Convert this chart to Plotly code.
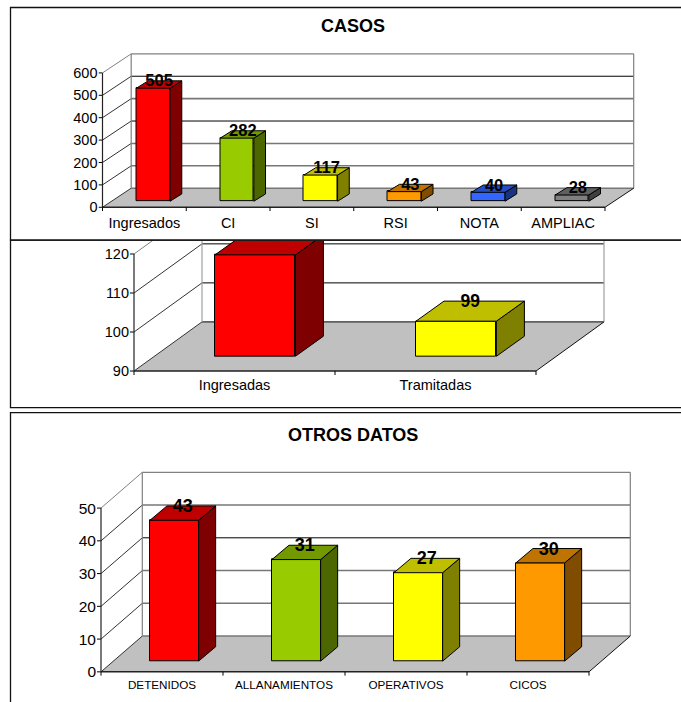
import plotly.graph_objects as go

W, H = 681, 702
FONT = "Liberation Sans"
K = 1.0085  # vertical pixel correction measured against the reference

# ---- data ----
casos_cat = ["Ingresados", "CI", "SI", "RSI", "NOTA", "AMPLIAC"]
casos_val = [505, 282, 117, 43, 40, 28]
casos_ticks = [0, 100, 200, 300, 400, 500, 600]
casos_front = ["#FF0000", "#99CC00", "#FFFF00", "#FF9900", "#3366FF", "#808080"]
casos_side = ["#7F0000", "#4C6600", "#7F7F00", "#7F4C00", "#1A337F", "#404040"]
casos_top = ["#BF0000", "#739900", "#BFBF00", "#BF7300", "#264DBF", "#606060"]

den_cat = ["Ingresadas", "Tramitadas"]
den_val = [116, 99]
den_ticks = [90, 100, 110, 120]
den_front = ["#FF0000", "#FFFF00"]
den_side = ["#7F0000", "#7F7F00"]
den_top = ["#BF0000", "#BFBF00"]

otros_cat = ["DETENIDOS", "ALLANAMIENTOS", "OPERATIVOS", "CICOS"]
otros_val = [43, 31, 27, 30]
otros_ticks = [0, 10, 20, 30, 40, 50]
otros_front = ["#FF0000", "#99CC00", "#FFFF00", "#FF9900"]
otros_side = ["#7F0000", "#4C6600", "#7F7F00", "#7F4C00"]
otros_top = ["#BF0000", "#739900", "#BFBF00", "#BF7300"]

# ---- layout of the three panels, in pixels ----
panels = [
    dict(cat=casos_cat, val=casos_val, ticks=casos_ticks, front=casos_front, side=casos_side, top=casos_top,
         xl=102.5, xr=605, y0=206.7, ytop=72.7, wdx=28.7, wdy=-19, clip_top=50,
         bw=33.6, bdx=11.7, bdy=-7.3, bx=8.9, by=-6,
         tf=14.5, cf=14.5, lf=16.5, standoff=1,
         dark=[300, 500], wall_line="#808080"),
    dict(cat=den_cat, val=den_val, ticks=den_ticks, front=den_front, side=den_side, top=den_top,
         xl=134, xr=536, y0=370, ytop=253.3, wdx=68, wdy=-49, clip_top=240,
         bw=80.4, bdx=28, bdy=-20, bx=20.7, by=-14.7,
         tf=14.5, cf=14.5, lf=17.5, standoff=0,
         dark=[90, 100, 110, 120], wall_line="#A0A0A0"),
    dict(cat=otros_cat, val=otros_val, ticks=otros_ticks, front=otros_front, side=otros_side, top=otros_top,
         xl=101, xr=589, y0=670, ytop=506.7, wdx=41.3, wdy=-35.7, clip_top=465,
         bw=48.7, bdx=17, bdy=-14.3, bx=12.3, by=-10.7,
         tf=15.5, cf=11.7, lf=18, standoff=0,
         dark=[30], wall_line="#808080"),
]

PAD = 4
LABEL_DROP = 1.5
fig = go.Figure()
shapes, annotations = [], []
layout_axes = {}

for n, p in enumerate(panels, start=1):
    for key in ("y0", "ytop", "wdy", "clip_top", "bdy", "by"):
        p[key] = p[key] * K
    xname = "x" if n == 1 else f"x{n}"
    yname = "y" if n == 1 else f"y{n}"
    ncat = len(p["cat"])
    pitch = (p["xr"] - p["xl"]) / ncat
    vmin, vmax = p["ticks"][0], p["ticks"][-1]
    ppu = (p["y0"] - p["ytop"]) / (vmax - vmin)

    # converters from pixel offsets to data offsets
    def ux(px, pitch=pitch):
        return px / pitch

    def uy(px, ppu=ppu):
        return -px / ppu  # px measured downward

    x_front_l = -0.5
    x_front_r = ncat - 0.5

    dom_l, dom_r = p["xl"] - PAD, p["xr"] + p["wdx"] + 3
    dom_b, dom_t = p["y0"] + PAD, p["clip_top"]
    layout_axes[f"xaxis{'' if n == 1 else n}"] = dict(
        domain=[dom_l / W, dom_r / W],
        range=[x_front_l - ux(PAD), x_front_l + ux(dom_r - p["xl"])],
        anchor=yname, tickmode="array", tickvals=list(range(ncat)), ticktext=p["cat"],
        showgrid=False, zeroline=False, showline=False, ticks="",
        ticklabelstandoff=p["standoff"],
        tickfont=dict(family=FONT, size=p["cf"], color="black"),
    )
    layout_axes[f"yaxis{'' if n == 1 else n}"] = dict(
        domain=[1 - dom_b / H, 1 - dom_t / H],
        range=[vmin - PAD / ppu, vmin + (p["y0"] - dom_t) / ppu],
        anchor=xname, tickmode="array", tickvals=p["ticks"],
        showgrid=False, zeroline=False, showline=False, ticks="",
        tickfont=dict(family=FONT, size=p["tf"], color="black"),
    )

    wdx, wdy = ux(p["wdx"]), uy(p["wdy"])

    def seg(x0, y0, x1, y1, color, width=1, xn=xname, yn=yname):
        shapes.append(dict(type="line", xref=xn, yref=yn, x0=x0, y0=y0, x1=x1, y1=y1,
                           line=dict(color=color, width=width), layer="below"))

    # floor
    shapes.append(dict(type="path", xref=xname, yref=yname, layer="below", fillcolor="#C0C0C0",
                       line=dict(width=0),
                       path=f"M{x_front_l},{vmin} L{x_front_r},{vmin} L{x_front_r + wdx},{vmin + wdy} "
                            f"L{x_front_l + wdx},{vmin + wdy} Z"))
    # wall grid lines
    for t in p["ticks"]:
        dark = t in p["dark"]
        c = "#000000" if dark else "#777777"
        w = 1 if dark else 1.6
        if t == vmax:
            c, w = p["wall_line"], 1.2
        seg(x_front_l + wdx, t + wdy, x_front_r + wdx, t + wdy, c, w)
        seg(x_front_l, t, x_front_l + wdx, t + wdy, "#333333" if t != vmax else "#808080", 1)
        seg(x_front_l - ux(PAD), t, x_front_l, t, "#000000", 1)
    # wall outlines
    seg(x_front_l + wdx, vmin + wdy, x_front_l + wdx, vmax + wdy, p["wall_line"], 1.2)
    seg(x_front_r + wdx, vmin + wdy, x_front_r + wdx, vmax + wdy, p["wall_line"], 1.2)
    # axes and floor edges
    seg(x_front_l, vmin, x_front_l, vmax, "#222222", 1.2)
    seg(x_front_l, vmin, x_front_r, vmin, "#222222", 1.5)
    seg(x_front_r, vmin, x_front_r + wdx, vmin + wdy, "#111111", 1)
    for i in range(ncat + 1):
        seg(i - 0.5, vmin, i - 0.5, vmin - PAD / ppu, "#000000", 1)

    # bars
    bw = ux(p["bw"])
    bdx, bdy = ux(p["bdx"]), uy(p["bdy"])
    ox = ux(p["bx"])
    base = vmin + uy(p["by"])
    xs = [i + ox for i in range(ncat)]
    for xc, v, cs, ct in zip(xs, p["val"], p["side"], p["top"]):
        top = v + uy(p["by"])
        l, r = xc - bw / 2, xc + bw / 2
        fig.add_trace(go.Scatter(
            x=[r, r + bdx, r + bdx, r, r], y=[base, base + bdy, top + bdy, top, base],
            mode="lines", fill="toself", fillcolor=cs, line=dict(color="black", width=1),
            xaxis=xname, yaxis=yname, showlegend=False, hoverinfo="skip"))
        fig.add_trace(go.Scatter(
            x=[l, r, r + bdx, l + bdx, l], y=[top, top, top + bdy, top + bdy, top],
            mode="lines", fill="toself", fillcolor=ct, line=dict(color="black", width=1),
            xaxis=xname, yaxis=yname, showlegend=False, hoverinfo="skip"))
    fig.add_trace(go.Bar(
        x=xs, y=[v - vmin for v in p["val"]], base=base, width=bw,
        marker=dict(color=p["front"], line=dict(color="black", width=1)),
        xaxis=xname, yaxis=yname, showlegend=False, hoverinfo="skip"))
    fig.add_trace(go.Scatter(
        x=[x + bdx / 2 for x in xs],
        y=[v + uy(p["by"]) + bdy + uy(LABEL_DROP) for v in p["val"]],
        text=[str(v) for v in p["val"]], mode="text", textposition="middle center",
        textfont=dict(family=FONT, size=p["lf"], color="black", weight="bold"),
        xaxis=xname, yaxis=yname, showlegend=False, hoverinfo="skip"))


def frame(x0, y0, x1, y1):
    shapes.append(dict(type="rect", xref="paper", yref="paper",
                       x0=x0 / W, x1=x1 / W, y0=1 - y0 * K / H, y1=1 - y1 * K / H,
                       line=dict(color="#111111", width=1.3), layer="above"))


frame(10.5, 7.5, W + 5, 239.5)
frame(10.5, 239.5, W + 5, 406.5)
frame(10.5, 411.5, W + 5, H + 10)

for text, yy in (("CASOS", 26), ("OTROS DATOS", 434)):
    annotations.append(dict(text=text, xref="paper", yref="paper", x=353 / W, y=1 - yy * K / H,
                            showarrow=False, xanchor="center", yanchor="middle",
                            font=dict(family=FONT, size=18, color="black", weight="bold")))

fig.update_layout(width=W, height=H, margin=dict(l=0, r=0, t=0, b=0), autosize=False,
                  paper_bgcolor="white", plot_bgcolor="rgba(0,0,0,0)", bargap=0,
                  shapes=shapes, annotations=annotations, **layout_axes)

fig.write_html("out.html", config=dict(displayModeBar=False),
               post_script="var s=document.createElement('style');s.textContent='html,body{margin:0;padding:0;overflow:hidden;height:702px}.plotly-graph-div{display:block}';document.head.appendChild(s);")
